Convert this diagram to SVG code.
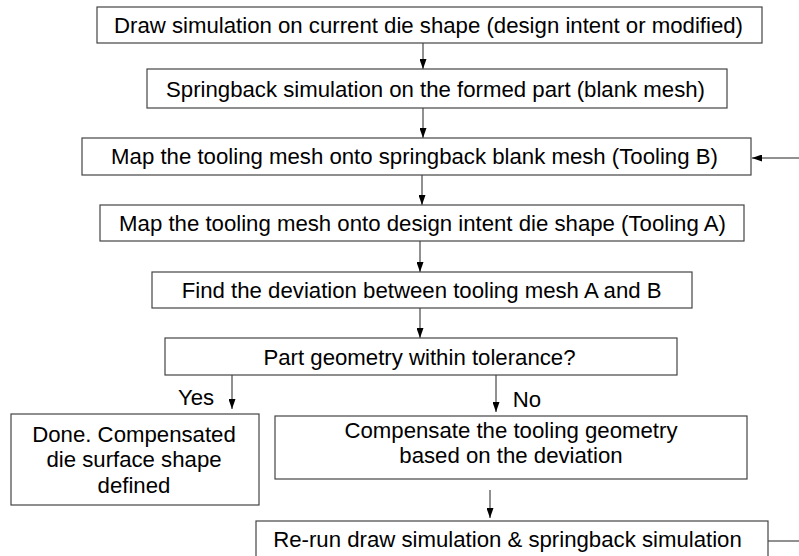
<svg xmlns="http://www.w3.org/2000/svg" width="799" height="556" viewBox="0 0 799 556">
<style>
.box{fill:#fff;stroke:#444;stroke-width:1.2}
.t{font-family:"Liberation Sans",Arial,sans-serif;font-size:22.2px;fill:#000;text-anchor:middle}
.c{fill:none;stroke:#222;stroke-width:1}
</style>
<defs>
<marker id="ah" markerWidth="10" markerHeight="7" refX="10" refY="3.5" orient="auto" markerUnits="userSpaceOnUse">
<path d="M0,0 L10,3.5 L0,7 Z" fill="#000"/>
</marker>
</defs>
<rect width="799" height="556" fill="#fff"/>
<g id="connectors">
<path class="c" d="M423,43 V69" marker-end="url(#ah)"/>
<path class="c" d="M423,108 V138" marker-end="url(#ah)"/>
<path class="c" d="M422,175 V205" marker-end="url(#ah)"/>
<path class="c" d="M420,241 V272" marker-end="url(#ah)"/>
<path class="c" d="M420,308 V338" marker-end="url(#ah)"/>
<path class="c" d="M232,375 V409" marker-end="url(#ah)"/>
<path class="c" d="M496,375 V412" marker-end="url(#ah)"/>
<path class="c" d="M490,490 V518" marker-end="url(#ah)"/>
<path class="c" d="M768,541 H810 V158 H752" marker-end="url(#ah)"/>
</g>
<g id="n1"><rect class="box" x="97" y="7" width="665" height="36"/><text class="t" x="428.5" y="33">Draw simulation on current die shape (design intent or modified)</text></g>
<g id="n2"><rect class="box" x="147" y="69" width="580" height="39"/><text class="t" x="435.5" y="97">Springback simulation on the formed part (blank mesh)</text></g>
<g id="n3"><rect class="box" x="82" y="138" width="669" height="37"/><text class="t" x="414.5" y="164">Map the tooling mesh onto springback blank mesh (Tooling B)</text></g>
<g id="n4"><rect class="box" x="100" y="205" width="644" height="36"/><text class="t" x="422.5" y="231">Map the tooling mesh onto design intent die shape (Tooling A)</text></g>
<g id="n5"><rect class="box" x="152" y="272" width="540" height="36"/><text class="t" x="421.7" y="298">Find the deviation between tooling mesh A and B</text></g>
<g id="n6"><rect class="box" x="165" y="338" width="512" height="37"/><text class="t" x="419.5" y="365">Part geometry within tolerance?</text></g>
<g id="l-yes"><text class="t" x="196" y="405">Yes</text></g>
<g id="l-no"><text class="t" x="527" y="407">No</text></g>
<g id="n7"><rect class="box" x="11" y="414" width="248" height="91"/><text class="t" x="134" y="442">Done. Compensated</text><text class="t" x="134" y="467">die surface shape</text><text class="t" x="134" y="493">defined</text></g>
<g id="n8"><rect class="box" x="275" y="416" width="472" height="63"/><text class="t" x="511" y="438">Compensate the tooling geometry</text><text class="t" x="511" y="463">based on the deviation</text></g>
<g id="n9"><rect class="box" x="256" y="521" width="512" height="40"/><text class="t" x="507.5" y="547">Re-run draw simulation &amp; springback simulation</text></g>
</svg>
